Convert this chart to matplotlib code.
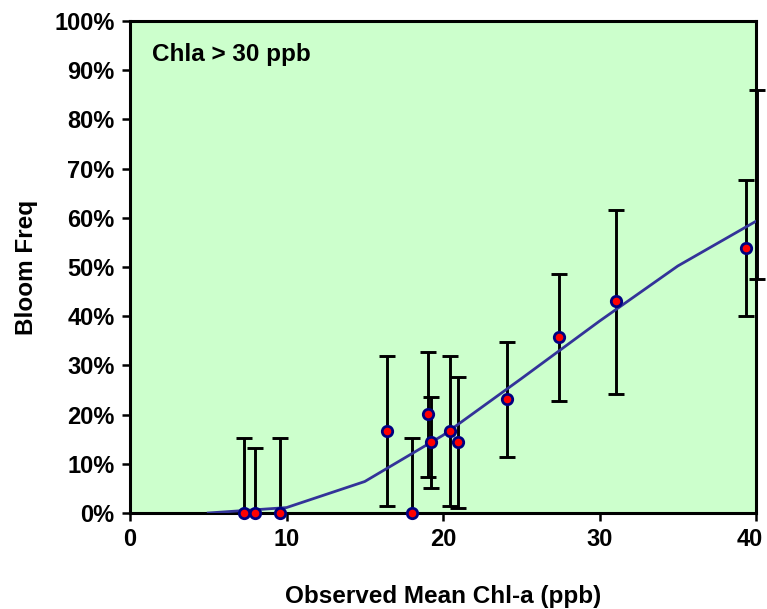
import matplotlib
matplotlib.use("Agg")
import matplotlib.pyplot as plt
import matplotlib.transforms as mtransforms
import numpy as np

plt.rcParams['font.family'] = ['Liberation Sans', 'DejaVu Sans']
plt.rcParams['font.weight'] = 'bold'

# observed points (mean chl-a, bloom frequency %) with error bar ends
obs_x = [7.27, 7.96, 9.6, 16.43, 18.0, 19.07, 19.21, 20.46, 20.98, 24.09, 27.42, 31.05, 39.34]
obs_y = [0, 0, 0, 16.7, 0, 20.1, 14.4, 16.7, 14.4, 23.1, 35.8, 43.1, 53.9]
err_lo = [0, 0, 0, 1.5, 0, 7.4, 5.0, 1.5, 1.1, 11.4, 22.8, 24.2, 40.0]
err_hi = [15.3, 13.3, 15.3, 31.9, 15.3, 32.7, 23.6, 31.9, 27.6, 34.7, 48.6, 61.5, 67.7]

# bar sitting on the right edge (point itself is off the plot)
edge_x = [40.06]
edge_lo = [47.5]
edge_hi = [86.0]

# model curve
curve_x = [5, 10, 15, 20, 25, 30, 35, 40]
curve_y = [0, 1.1, 6.4, 15.8, 27.3, 39.0, 50.2, 59.3]

fig = plt.figure(figsize=(7.67, 6.09), dpi=100)
ax = fig.add_axes([130 / 767, 1 - 513 / 609, 626 / 767, 492 / 609])
ax.set_facecolor('#CCFFCC')

obs_y = np.array(obs_y)
yerr = [obs_y - np.array(err_lo), np.array(err_hi) - obs_y]
ax.errorbar(obs_x, obs_y, yerr=yerr, fmt='none', ecolor='black',
            elinewidth=2.1, capsize=5.8, capthick=2.1, zorder=2)

edge_mid = (np.array(edge_lo) + np.array(edge_hi)) / 2
edge_err = [edge_mid - np.array(edge_lo), np.array(edge_hi) - edge_mid]
eb = ax.errorbar(edge_x, edge_mid, yerr=edge_err, fmt='none', ecolor='black',
                 elinewidth=2.1, capsize=5.8, capthick=2.1, zorder=4)
for part in eb.lines[1] + eb.lines[2]:
    part.set_clip_on(False)

ax.plot(curve_x, curve_y, color='#333399', lw=2, zorder=3)
ax.plot(obs_x, obs_y, 'o', ms=7.5, mfc='red', mec='#000080', mew=2,
        zorder=5, clip_on=False)

ax.set_xlim(0, 40)
ax.set_ylim(0, 100)
ax.set_xticks(np.arange(0, 41, 10))
ax.set_yticks(np.arange(0, 101, 10))
ax.set_yticklabels([f"{v}%" for v in range(0, 101, 10)])

for s in ax.spines.values():
    s.set_linewidth(2.2)
ax.tick_params(direction='out', length=6, width=1.8, labelsize=17, pad=5)

# keep the last x label inside the picture
last = ax.get_xticklabels()[-1]
last.set_transform(last.get_transform() +
                   mtransforms.ScaledTranslation(-6 / 100, 0, fig.dpi_scale_trans))

ax.set_xlabel('Observed Mean Chl-a (ppb)', fontsize=17.5, fontweight='bold', labelpad=24)
ax.set_ylabel('Bloom Freq', fontsize=17.5, fontweight='bold', labelpad=12)

ax.text(0.035, 0.955, 'Chla > 30 ppb', transform=ax.transAxes, fontsize=17.5,
        fontweight='bold', va='top', ha='left')

fig.savefig('out.png', dpi=100)
